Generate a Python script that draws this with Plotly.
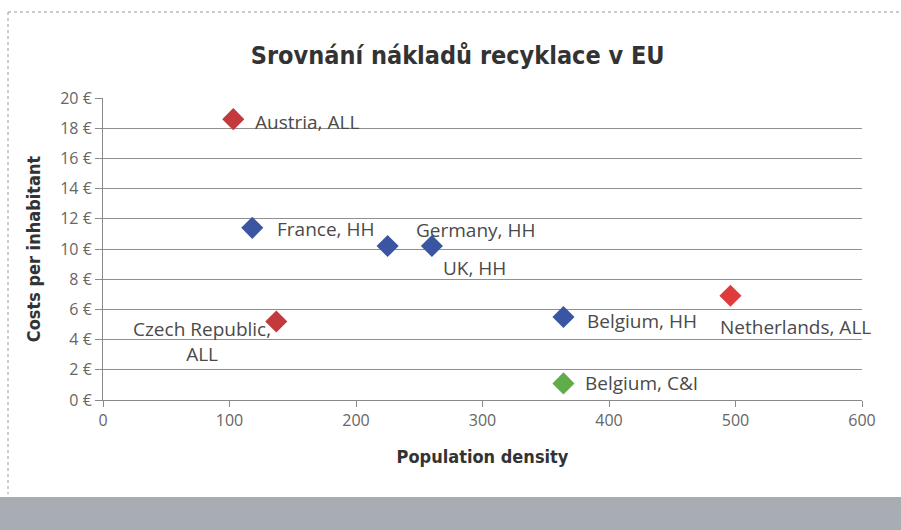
import plotly.graph_objects as go

# ---- data ----
labels = ["Austria, ALL", "France, HH", "Germany, HH", "UK, HH",
          "Czech Republic,<br>ALL", "Belgium, HH", "Netherlands, ALL", "Belgium, C&I"]
density = [103, 118, 225, 260, 137, 364, 496, 364]
cost = [18.6, 11.4, 10.2, 10.2, 5.2, 5.5, 6.9, 1.1]
colors = ["#c3393d", "#3a55a2", "#3a55a2", "#3a55a2",
          "#c3393d", "#3a55a2", "#e03b3b", "#5fac4b"]
y_ticks = [0, 2, 4, 6, 8, 10, 12, 14, 16, 18, 20]
y_ticktext = [f"{v} €" for v in y_ticks]
x_ticks = [0, 100, 200, 300, 400, 500, 600]

# label placement (pixel offsets from the marker)
lab_style = [
    dict(xanchor="left", xshift=20, yshift=-3),
    dict(xanchor="left", xshift=23, yshift=-1),
    dict(xanchor="left", xshift=26, yshift=16),
    dict(xanchor="left", xshift=9, yshift=-22),
    dict(xanchor="right", xshift=-3, yshift=-20),
    dict(xanchor="left", xshift=22, yshift=-4),
    dict(xanchor="center", xshift=65, yshift=-31),
    dict(xanchor="left", xshift=20, yshift=0),
]

W, H = 901, 530
ML, MR, MT, MB = 103, 39, 98, 130

fig = go.Figure()
fig.add_trace(go.Scatter(
    x=density, y=cost, mode="markers",
    marker=dict(symbol="diamond", size=17, color=colors, line=dict(width=0)),
    hoverinfo="skip", showlegend=False,
))

lab_font = dict(family="Open Sans, Roboto, sans-serif", size=19, color="#4a4a4a")
for i, t in enumerate(labels):
    fig.add_annotation(x=density[i], y=cost[i], text=t, showarrow=False,
                       yanchor="middle", align="center", font=lab_font, **lab_style[i])

pw = W - ML - MR
ph = H - MT - MB
def px(x):
    return (x - ML) / pw
def py(y):
    return (H - MB - y) / ph

shapes = [
    # dotted frame of the scanned page
    dict(type="line", xref="paper", yref="paper", x0=px(8), x1=px(8), y0=py(12), y1=py(494),
         line=dict(color="#9a9a9a", width=1, dash="dot")),
    dict(type="line", xref="paper", yref="paper", x0=px(8), x1=px(901), y0=py(12), y1=py(12),
         line=dict(color="#9a9a9a", width=1, dash="dot")),
    # grey band at the bottom of the scan
    dict(type="rect", xref="paper", yref="paper", x0=px(0), x1=px(901), y0=py(497), y1=py(530),
         fillcolor="#a7adb2", line=dict(width=0), layer="below"),
]

title_font = "Liberation Sans Narrow, DejaVu Sans Condensed, sans-serif"
fig.update_layout(
    width=W, height=H,
    margin=dict(l=ML, r=MR, t=MT, b=MB),
    paper_bgcolor="white", plot_bgcolor="white",
    title=dict(text="<b>Srovnání nákladů recyklace v EU</b>", x=0.508, xanchor="center",
               y=1 - 55 / H, yanchor="middle",
               font=dict(family=title_font, size=25, color="#333333")),
    shapes=shapes,
    xaxis=dict(
        range=[0, 600], tickvals=x_ticks, ticktext=[str(v) for v in x_ticks],
        showgrid=False, zeroline=False,
        showline=True, linecolor="#8a8a8a", linewidth=1,
        ticks="outside", ticklen=6, tickcolor="#8a8a8a",
        tickfont=dict(family="Open Sans, sans-serif", size=16, color="#666666"),
        title=dict(text="<b>Population density</b>", standoff=20,
                   font=dict(family=title_font, size=18, color="#333333")),
        fixedrange=True,
    ),
    yaxis=dict(
        range=[0, 20], tickvals=y_ticks, ticktext=y_ticktext,
        showgrid=True, gridcolor="#909090", gridwidth=1, zeroline=False,
        showline=True, linecolor="#8a8a8a", linewidth=1,
        ticks="outside", ticklen=7, tickcolor="#8a8a8a",
        tickfont=dict(family="Open Sans, sans-serif", size=16, color="#666666"),
        title=dict(text="<b>Costs per inhabitant</b>", standoff=14,
                   font=dict(family=title_font, size=18, color="#333333")),
        fixedrange=True,
    ),
)

fig.write_html("out.html", config={"displayModeBar": False},
               post_script="document.body.style.margin='0';document.body.style.overflow='hidden';")
